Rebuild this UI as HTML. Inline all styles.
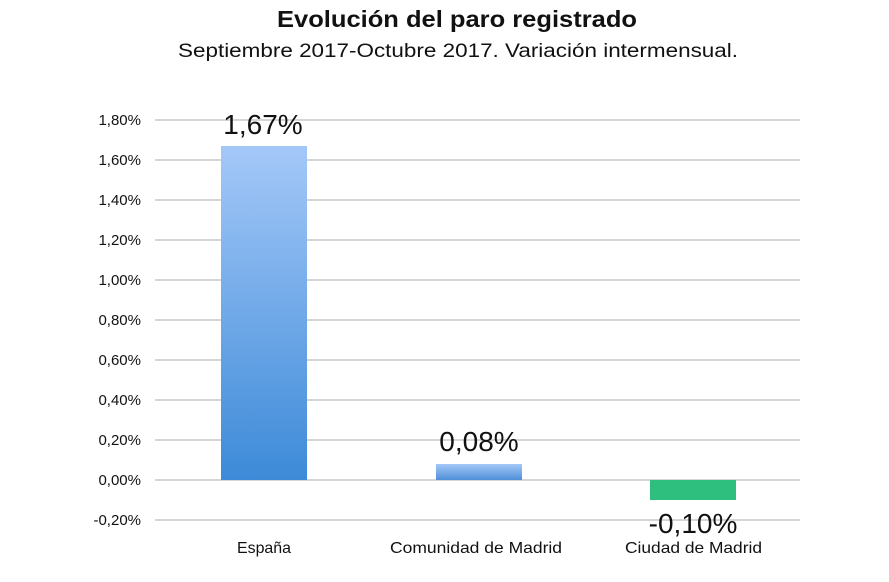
<!DOCTYPE html>
<html><head><meta charset="utf-8"><style>
body{margin:0;background:#fff;width:889px;height:577px;overflow:hidden}
</style></head><body>
<svg width="889" height="577" xmlns="http://www.w3.org/2000/svg" font-family="Liberation Sans, sans-serif">
<defs>
<linearGradient id="g1" x1="0" y1="0" x2="0" y2="1"><stop offset="0" stop-color="#a4c8f8"/><stop offset="1" stop-color="#3d8ad8"/></linearGradient>
<linearGradient id="g2" x1="0" y1="0" x2="0" y2="1"><stop offset="0" stop-color="#a4c8f8"/><stop offset="1" stop-color="#4f8fd6"/></linearGradient>
</defs>
<text x="277" y="27" textLength="360" lengthAdjust="spacingAndGlyphs" font-size="23" font-weight="bold" fill="#111">Evolución del paro registrado</text>
<text x="178" y="57" textLength="560" lengthAdjust="spacingAndGlyphs" font-size="19" fill="#111">Septiembre 2017-Octubre 2017. Variación intermensual.</text>
<g stroke="#c8c8c8" stroke-width="1.5">
<line x1="155" y1="120" x2="800" y2="120"/><line x1="155" y1="160" x2="800" y2="160"/>
<line x1="155" y1="200" x2="800" y2="200"/><line x1="155" y1="240" x2="800" y2="240"/>
<line x1="155" y1="280" x2="800" y2="280"/><line x1="155" y1="320" x2="800" y2="320"/>
<line x1="155" y1="360" x2="800" y2="360"/><line x1="155" y1="400" x2="800" y2="400"/>
<line x1="155" y1="440" x2="800" y2="440"/><line x1="155" y1="480" x2="800" y2="480"/>
<line x1="155" y1="520" x2="800" y2="520"/>
</g>
<g font-size="15" fill="#111" text-anchor="end">
<text x="141" y="125">1,80%</text><text x="141" y="165">1,60%</text><text x="141" y="205">1,40%</text>
<text x="141" y="245">1,20%</text><text x="141" y="285">1,00%</text><text x="141" y="325">0,80%</text>
<text x="141" y="365">0,60%</text><text x="141" y="405">0,40%</text><text x="141" y="445">0,20%</text>
<text x="141" y="485">0,00%</text><text x="141" y="525">-0,20%</text>
</g>
<rect x="221" y="146" width="86" height="334" fill="url(#g1)"/>
<rect x="436" y="464" width="86" height="16" fill="url(#g2)"/>
<rect x="650" y="480" width="86" height="20" fill="#2ebf7e"/>
<g font-size="28" fill="#111" text-anchor="middle">
<text x="263" y="134">1,67%</text><text x="479" y="451">0,08%</text><text x="693" y="533">-0,10%</text>
</g>
<g font-size="16" fill="#111">
<text x="237" y="553" textLength="54" lengthAdjust="spacingAndGlyphs">España</text>
<text x="390" y="553" textLength="172" lengthAdjust="spacingAndGlyphs">Comunidad de Madrid</text>
<text x="625" y="553" textLength="137" lengthAdjust="spacingAndGlyphs">Ciudad de Madrid</text>
</g>
</svg>
</body></html>
